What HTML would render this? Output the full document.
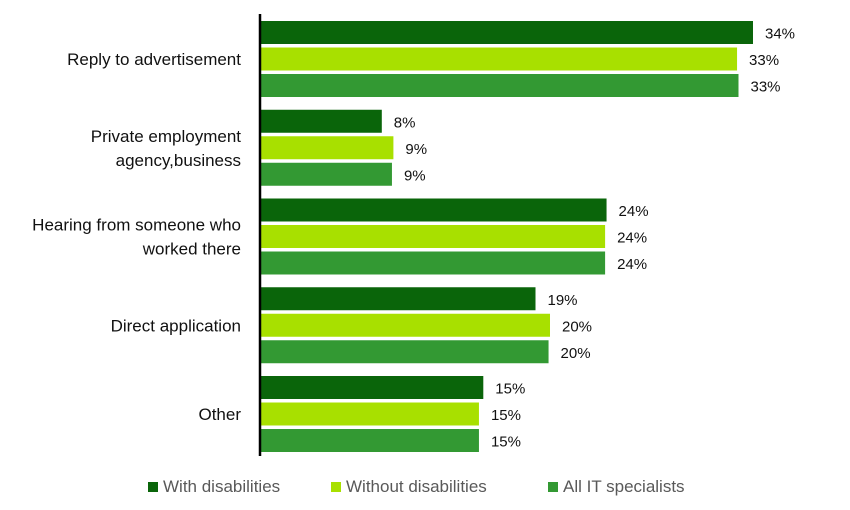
<!DOCTYPE html>
<html><head><meta charset="utf-8">
<style>
body{margin:0;background:#fff;font-family:"Liberation Sans","DejaVu Sans",sans-serif;}
svg{display:block}
</style></head>
<body>
<svg id="chart" width="850" height="510"></svg>
<script>
const categories = [["Reply to advertisement"],["Private employment","agency,business"],["Hearing from someone who","worked there"],["Direct application"],["Other"]];
const seriesNames = ["With disabilities","Without disabilities","All IT specialists"];
const withDisabilities = [34, 8.4, 23.9, 19, 15.4];
const withoutDisabilities = [32.9, 9.2, 23.8, 20, 15.1];
const allIT = [33, 9.1, 23.8, 19.9, 15.1];
const colors = ["#0a650a","#a8e000","#339933"];
const series = [withDisabilities, withoutDisabilities, allIT];

const NS="http://www.w3.org/2000/svg";
const svg=document.getElementById('chart');
const x0=260, pxPer=14.5, top0=21, groupPitch=88.75, barOff=26.5, barH=23;
const xScale=v=>x0+v*pxPer;
function mk(t,a){const e=document.createElementNS(NS,t);for(const k in a)e.setAttribute(k,a[k]);svg.appendChild(e);return e;}

categories.forEach((cat,i)=>{
  const gy=top0+i*groupPitch;
  const cy=gy+barOff+barH/2;
  const lines=cat.length;
  cat.forEach((ln,j)=>{
    const t=mk('text',{x:241,y:cy+6+(j-(lines-1)/2)*24,'text-anchor':'end','font-size':17,fill:'#111'});
    t.textContent=ln;
    
    
  });
  series.forEach((s,k)=>{
    const y=gy+k*barOff;
    const r=mk('rect',{x:x0,y:y,width:xScale(s[i])-x0,height:barH,fill:colors[k]});
    
    
    const t=mk('text',{x:xScale(s[i])+12,y:y+barH/2+6,'font-size':15,fill:'#111'});
    t.textContent=Math.round(s[i])+'%';
    
    
  });
});
const ax=mk('line',{x1:x0,y1:14,x2:x0,y2:456,stroke:'#000','stroke-width':2.5});



const legX=[148,331,548];
seriesNames.forEach((n,k)=>{
  const r=mk('rect',{x:legX[k],y:482,width:10,height:10,fill:colors[k]});
  
  
  const t=mk('text',{x:legX[k]+15,y:492,'font-size':17,fill:'#595959'});
  t.textContent=n;
  
  
});
</script>
</body></html>
